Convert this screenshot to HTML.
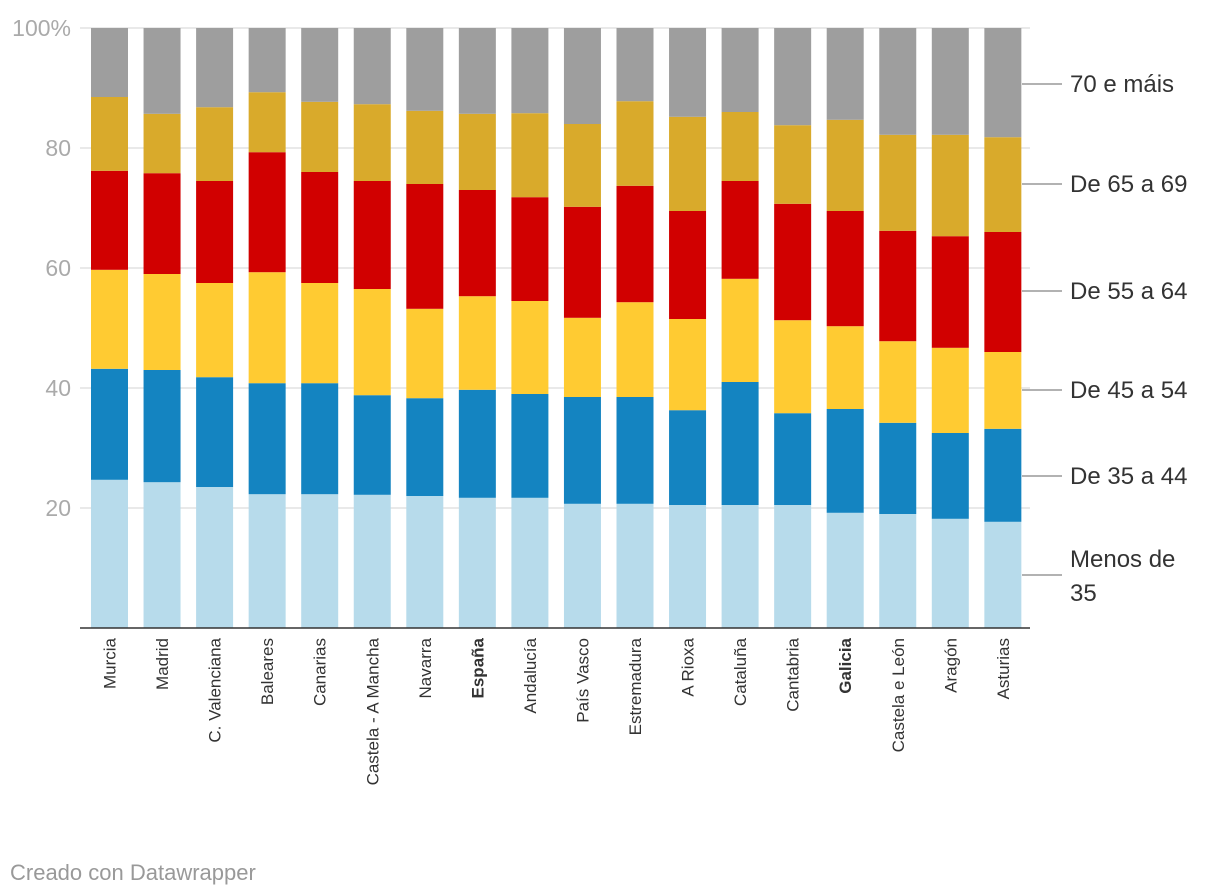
<!DOCTYPE html>
<html><head><meta charset="utf-8"><style>
html,body{margin:0;padding:0;background:#fff;width:1220px;height:896px;overflow:hidden;font-family:"Liberation Sans",sans-serif}
svg text{font-family:"Liberation Sans",sans-serif}
</style></head><body>
<svg id="chart" width="1220" height="896" xmlns="http://www.w3.org/2000/svg"></svg>
<script>
const categories=["Murcia","Madrid","C. Valenciana","Baleares","Canarias","Castela - A Mancha","Navarra","España","Andalucía","País Vasco","Estremadura","A Rioxa","Cataluña","Cantabria","Galicia","Castela e León","Aragón","Asturias"];
const boldCats=["España","Galicia"];
const seriesNames=["Menos de 35","De 35 a 44","De 45 a 54","De 55 a 64","De 65 a 69","70 e máis"];
const sMenos35=[24.7,24.3,23.5,22.3,22.3,22.2,22,21.7,21.7,20.7,20.7,20.5,20.5,20.5,19.2,19,18.2,17.7];
const s35a44=[18.5,18.7,18.3,18.5,18.5,16.6,16.3,18,17.3,17.8,17.8,15.8,20.5,15.3,17.3,15.2,14.3,15.5];
const s45a54=[16.5,16,15.7,18.5,16.7,17.7,14.9,15.6,15.5,13.2,15.8,15.2,17.2,15.5,13.8,13.6,14.2,12.8];
const s55a64=[16.5,16.8,17,20,18.5,18,20.8,17.7,17.3,18.5,19.4,18,16.3,19.4,19.2,18.4,18.6,20];
const s65a69=[12.3,9.9,12.3,10,11.7,12.8,12.2,12.7,14,13.8,14.1,15.7,11.5,13.1,15.2,16,16.9,15.8];
const s70mais=[11.5,14.3,13.2,10.7,12.3,12.7,13.8,14.3,14.2,16,12.2,14.8,14,16.2,15.3,17.8,17.8,18.2];
const yTicks=[0,20,40,60,80,100];
const colors=["#b7dbeb","#1484c1","#ffcb32","#d10000","#d9aa2b","#9e9e9e"];
const series=[sMenos35,s35a44,s45a54,s55a64,s65a69,s70mais];
const svg=document.getElementById('chart');
const NS="http://www.w3.org/2000/svg";
const x0=80,x1=1030,yTop=28,yBot=628;
const step=52.55,bw=37,firstLeft=91;
const y=v=>yBot-(v/100)*(yBot-yTop);
const xc=i=>firstLeft+bw/2+i*step;
function mk(tag,attrs){const e=document.createElementNS(NS,tag);for(const k in attrs)e.setAttribute(k,attrs[k]);svg.appendChild(e);return e;}
yTicks.forEach(t=>{
  if(t>0){const g=mk('line',{x1:x0,x2:x1,y1:y(t),y2:y(t),stroke:'#e2e2e2','stroke-width':1.5});
  
  }
  if(t>0){const l=mk('text',{x:71,y:y(t)+8,'text-anchor':'end','font-size':23,fill:'#aaa'});
  l.textContent=t===100?'100%':String(t);
  
  }
});
categories.forEach((c,i)=>{
  let cum=0;
  const tot=series.reduce((a,s)=>a+s[i],0);
  series.forEach((s,k)=>{
    const v=s[i]/tot*100;
    const r=mk('rect',{x:xc(i)-bw/2,y:y(cum+v),width:bw,height:y(cum)-y(cum+v),fill:colors[k]});
    
    
    cum+=v;
  });
  const t=mk('text',{transform:`translate(${xc(i)+6},638) rotate(-90)`,'text-anchor':'end','font-size':17,fill:'#333','font-weight':boldCats.includes(c)?'bold':'normal'});
  t.textContent=c;
  
  
});
const base=mk('line',{x1:x0,x2:x1,y1:yBot,y2:yBot,stroke:'#333','stroke-width':1.5});


const labelY=[575,476,390,291,184,84];
seriesNames.forEach((n,k)=>{
  const ln=mk('line',{x1:1022,x2:1062,y1:labelY[k],y2:labelY[k],stroke:'#999','stroke-width':1.5});
  
  
  const t=mk('text',{x:1070,y:labelY[k]+8,'font-size':24,fill:'#333'});
  if(k===0){t.setAttribute('y',567);
    const a=document.createElementNS(NS,'tspan');a.textContent='Menos de';a.setAttribute('x',1070);t.appendChild(a);
    const b=document.createElementNS(NS,'tspan');b.textContent='35';b.setAttribute('x',1070);b.setAttribute('dy',34);t.appendChild(b);}
  else t.textContent=n;
  
  
});
const f=mk('text',{x:10,y:880,'font-size':22,fill:'#999'});
f.textContent='Creado con Datawrapper';


</script>
</body></html>
